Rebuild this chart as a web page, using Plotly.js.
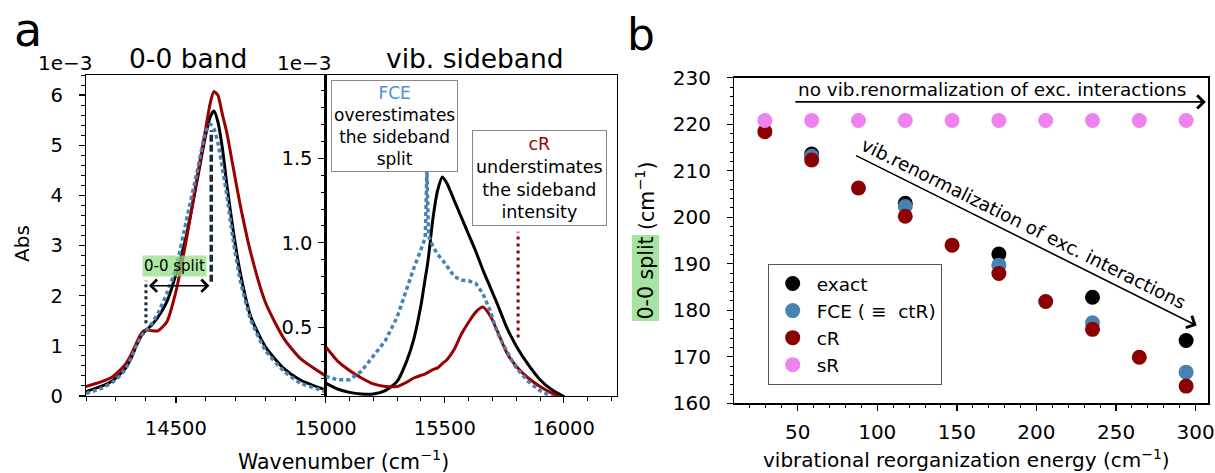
<!DOCTYPE html>
<html><head><meta charset="utf-8">
<script src="https://cdn.plot.ly/plotly-3.0.1.min.js"></script>
<style>html,body{margin:0;padding:0;background:#fff}#chart{width:1215px;height:473px}</style>
</head><body><div id="chart"></div>
<script>
// ---------- panel a, left: 0-0 band (Abs in units of 1e-3) ----------
const bandW      = [14200,14250,14290,14330,14350,14370,14385,14400,14420,14440,14470,14500,14535,14570,14600,14615,14627,14640,14655,14670,14690,14715,14750,14800,14860,14915,15000];
const bandExact  = [0.09,0.19,0.31,0.54,0.75,1.03,1.21,1.31,1.42,1.57,1.88,2.42,3.20,4.27,5.22,5.57,5.68,5.47,4.95,4.22,3.35,2.45,1.58,0.97,0.55,0.32,0.12];
const bandCR     = [0.19,0.28,0.39,0.62,0.82,1.08,1.25,1.32,1.30,1.30,1.48,2.08,3.12,4.33,5.35,5.85,6.07,6.00,5.62,5.25,4.60,3.80,2.85,1.85,1.15,0.75,0.40];
const bandFCE    = [0.05,0.15,0.28,0.52,0.75,1.03,1.20,1.30,1.45,1.65,2.05,2.55,3.50,4.45,5.28,5.42,5.33,5.05,4.55,4.00,3.15,2.30,1.52,0.90,0.50,0.26,0.09];
// 0-0 split markers
const splitLowW  = [14400,14400];
const splitLowA  = [1.45,2.30];
const splitHighW = [14618,14618];
const splitHighA = [2.28,5.30];
const splitArrowW = [14405,14612];
const splitArrowA = 2.2;

// ---------- panel a, right: vibrational sideband ----------
const sideW      = [15000,15050,15100,15150,15200,15250,15300,15340,15370,15400,15418,15425,15432,15450,15470,15490,15510,15540,15570,15600,15630,15660,15690,15720,15760,15800,15850,15900,15950,16000,16050,16220];
const sideExact  = [0.17,0.135,0.115,0.105,0.105,0.125,0.18,0.30,0.43,0.63,0.79,0.85,0.92,1.14,1.31,1.39,1.35,1.25,1.15,1.05,0.95,0.84,0.74,0.64,0.50,0.39,0.28,0.19,0.13,0.09,0.06,0.03];
const sideCR     = [0.385,0.30,0.245,0.20,0.165,0.15,0.15,0.175,0.20,0.215,0.225,0.23,0.235,0.25,0.26,0.285,0.31,0.37,0.46,0.53,0.59,0.62,0.57,0.48,0.35,0.27,0.20,0.15,0.11,0.08,0.06,0.03];
const sideFCE    = [0.21,0.19,0.19,0.24,0.33,0.42,0.56,0.73,0.85,0.96,1.03,1.43,1.04,0.98,0.93,0.90,0.86,0.80,0.78,0.775,0.76,0.70,0.60,0.47,0.36,0.26,0.18,0.125,0.09,0.07,0.05,0.03];
const cRMarkW    = [15808,15808];
const cRMarkA    = [0.44,1.066];

// ---------- panel b: 0-0 split vs vibrational reorganization energy ----------
const lambdaAll   = [29.4,58.8,88.2,117.6,147.0,176.4,205.8,235.2,264.6,294.0];
const lambdaEven  = [58.8,117.6,176.4,235.2,294.0];
const splitExact  = [213.6,203.0,192.1,182.8,173.5];
const splitFCE    = [213.1,202.3,189.7,177.3,166.7];
const splitCR     = [218.4,212.3,206.3,200.2,194.0,187.9,181.9,175.9,169.9,163.7];
const splitSR     = [220.8,220.8,220.8,220.8,220.8,220.8,220.8,220.8,220.8,220.8];
const legendNames = ['exact','FCE ( ≡&nbsp; ctR)','cR','sR'];

const FONT = 'DejaVu Sans, Verdana, sans-serif';
const BLACK = '#000000', BLUE = '#4682b4', RED = '#990000', DRED = '#8b0000', VIOLET = '#ee82ee', NAVY = '#1b2a38';
const W = 1215, H = 473;
const px = v => v / W, py = v => 1 - v / H;

const smooth = {shape:'spline', smoothing:0.6};
const traces = [
  // panel a left
  {x: bandW, y: bandExact, xaxis:'x', yaxis:'y', mode:'lines', line:Object.assign({color:BLACK, width:3}, smooth), showlegend:false, hoverinfo:'skip'},
  {x: bandW, y: bandCR, xaxis:'x', yaxis:'y', mode:'lines', line:Object.assign({color:RED, width:3}, smooth), showlegend:false, hoverinfo:'skip'},
  {x: bandW, y: bandFCE, xaxis:'x', yaxis:'y', mode:'lines', line:Object.assign({color:BLUE, width:3.5, dash:'4px,3px'}, smooth), showlegend:false, hoverinfo:'skip'},
  {x: splitLowW, y: splitLowA, xaxis:'x', yaxis:'y', mode:'lines', line:{color:NAVY, width:3, dash:'3px,3px'}, showlegend:false, hoverinfo:'skip'},
  {x: splitHighW, y: splitHighA, xaxis:'x', yaxis:'y', mode:'lines', line:{color:NAVY, width:3.5, dash:'7px,3px'}, showlegend:false, hoverinfo:'skip'},
  // panel a right
  {x: sideW, y: sideExact, xaxis:'x2', yaxis:'y2', mode:'lines', line:Object.assign({color:BLACK, width:3}, smooth), showlegend:false, hoverinfo:'skip'},
  {x: sideW, y: sideCR, xaxis:'x2', yaxis:'y2', mode:'lines', line:Object.assign({color:RED, width:3}, smooth), showlegend:false, hoverinfo:'skip'},
  {x: sideW, y: sideFCE, xaxis:'x2', yaxis:'y2', mode:'lines', line:{color:BLUE, width:3.5, dash:'4px,3px'}, showlegend:false, hoverinfo:'skip'},
  {x: cRMarkW, y: cRMarkA, xaxis:'x2', yaxis:'y2', mode:'lines', line:{color:DRED, width:3, dash:'3px,4px'}, showlegend:false, hoverinfo:'skip'},
  // panel b
  {x: lambdaEven, y: splitExact, xaxis:'x3', yaxis:'y3', mode:'markers', name:legendNames[0], marker:{color:BLACK, size:15}},
  {x: lambdaEven, y: splitFCE, xaxis:'x3', yaxis:'y3', mode:'markers', name:legendNames[1], marker:{color:BLUE, size:15}},
  {x: lambdaAll, y: splitCR, xaxis:'x3', yaxis:'y3', mode:'markers', name:legendNames[2], marker:{color:DRED, size:15}},
  {x: lambdaAll, y: splitSR, xaxis:'x3', yaxis:'y3', mode:'markers', name:legendNames[3], marker:{color:VIOLET, size:15}}
];

const base = {showline:true, linecolor:'#000', linewidth:1.3, mirror:true, ticks:'outside', ticklen:6, tickwidth:1.3,
  tickcolor:'#000', showgrid:false, zeroline:false, tickfont:{family:FONT, size:19.5, color:'#000'}};
const minor = (dt, t0) => ({ticks:'outside', ticklen:3.5, tickwidth:1, tickcolor:'#000', dtick:dt, tick0:t0, showgrid:false});

function lab(text, x, y, size, extra) {
  return Object.assign({text:text, xref:'paper', yref:'paper', x:px(x), y:py(y), xanchor:'center', yanchor:'middle',
    showarrow:false, font:{size:size, family:FONT, color:'#000'}}, extra || {});
}

const layout = {
  width: W, height: H, margin:{l:0, r:0, t:0, b:0}, paper_bgcolor:'#fff', plot_bgcolor:'rgba(0,0,0,0)',
  font:{family:FONT, color:'#000'},
  xaxis: Object.assign({}, base, {domain:[px(86), px(325.7)], range:[14200,15000], anchor:'y', tickmode:'array', tickvals:[14500], ticktext:['14500'], minor:minor(100,14200), ticklabelstandoff:8}),
  yaxis: Object.assign({}, base, {domain:[py(396), py(75)], range:[0,6.4], anchor:'x', dtick:1, tick0:0, minor:minor(0.2,0), ticklabelstandoff:12}),
  xaxis2: Object.assign({}, base, {domain:[px(325.7), px(616.7)], range:[15000,16222], anchor:'y2', dtick:500, tick0:15000, tickformat:'d', minor:minor(100,15000), ticklabelstandoff:8}),
  yaxis2: Object.assign({}, base, {domain:[py(396), py(75)], range:[0.0935,1.993], anchor:'x2', dtick:0.5, tick0:0, tickformat:'.1f', minor:minor(0.1,0), ticklabelstandoff:2}),
  xaxis3: Object.assign({}, base, {domain:[px(734.3), px(1208.4)], range:[10.2,308], anchor:'y3', dtick:50, tick0:0, minor:minor(10,0), ticklabelstandoff:4, tickfont:{family:FONT,size:20,color:'#000'}}),
  yaxis3: Object.assign({}, base, {domain:[py(403.3), py(77.7)], range:[160,230], anchor:'x3', dtick:10, tick0:0, minor:minor(2,0), ticklabelstandoff:12, tickfont:{family:FONT,size:20,color:'#000'}}),
  showlegend:true,
  legend:{x:px(767.7), y:py(264), xanchor:'left', yanchor:'top', bgcolor:'#fff', bordercolor:'#555', borderwidth:1,
    font:{family:FONT, size:18.5, color:'#000'}, itemwidth:38, tracegroupgap:0},
  annotations: [
    lab('a', 28, 30, 46),
    lab('b', 641, 34, 44),
    lab('0-0 band', 188, 59, 26.5),
    lab('vib. sideband', 475, 58, 26.5),
    lab('1e−3', 65, 63, 20),
    lab('1e−3', 304.5, 63, 20),
    lab('Abs', 22, 244, 20, {textangle:-90}),
    lab('Wavenumber (cm<sup>−1</sup>)', 343, 460, 20.5),
    lab('vibrational reorganization energy (cm<sup>−1</sup>)', 967, 459, 20),
    lab('0-0 split', 645, 278.5, 20.5, {textangle:-90, bgcolor:'#a6e3a0', borderpad:1}),
    lab('(cm<sup>−1</sup>)', 645, 196, 20.5, {textangle:-90}),
    // 0-0 split label and double arrow
    {text:'0-0 split', xref:'x', yref:'y', x:14496, y:2.59, xanchor:'center', yanchor:'middle', showarrow:false, bgcolor:'rgba(140,222,125,0.7)', borderpad:1, font:{size:15, family:FONT}},
    {text:'', xref:'x', yref:'y', x:splitArrowW[1], y:splitArrowA, axref:'x', ayref:'y', ax:splitArrowW[0], ay:splitArrowA,
      showarrow:true, arrowhead:4, startarrowhead:4, arrowside:'end+start', arrowsize:1.6, startarrowsize:1.6, arrowwidth:1.5, arrowcolor:'#000'},
    // sideband boxes
    lab('<span style="color:#4a90d9">FCE</span><br>overestimates<br>the sideband<br>split', 394.2, 125.9, 17,
      {bgcolor:'#fff', bordercolor:'#888', borderwidth:1, borderpad:2}),
    lab('<span style="color:#a00000">cR</span><br>understimates<br>the sideband<br>intensity', 539.5, 178, 17.5,
      {bgcolor:'#fff', bordercolor:'#888', borderwidth:1, borderpad:3}),
    // panel b arrows
    {text:'', xref:'x3', yref:'y3', x:306.4, y:224.8, axref:'x3', ayref:'y3', ax:47.6, ay:224.8,
      showarrow:true, arrowhead:4, arrowsize:1.6, arrowwidth:1.6, arrowcolor:'#000'},
    {text:'no vib.renormalization of exc. interactions', xref:'x3', yref:'y3', x:172.3, y:227.5, xanchor:'center', yanchor:'middle', showarrow:false, font:{size:18.4, family:FONT}},
    {text:'', xref:'x3', yref:'y3', x:300.6, y:176.7, axref:'x3', ayref:'y3', ax:85.8, ay:213.4,
      showarrow:true, arrowhead:4, arrowsize:1.6, arrowwidth:1.6, arrowcolor:'#000'},
    {text:'vib.renormalization of exc. interactions', xref:'x3', yref:'y3', x:191.9, y:198.7, xanchor:'center', yanchor:'middle', showarrow:false, textangle:26.5, font:{size:18.4, family:FONT}}
  ]
};

Plotly.newPlot('chart', traces, layout, {staticPlot:true, displayModeBar:false});
</script>
</body></html>
